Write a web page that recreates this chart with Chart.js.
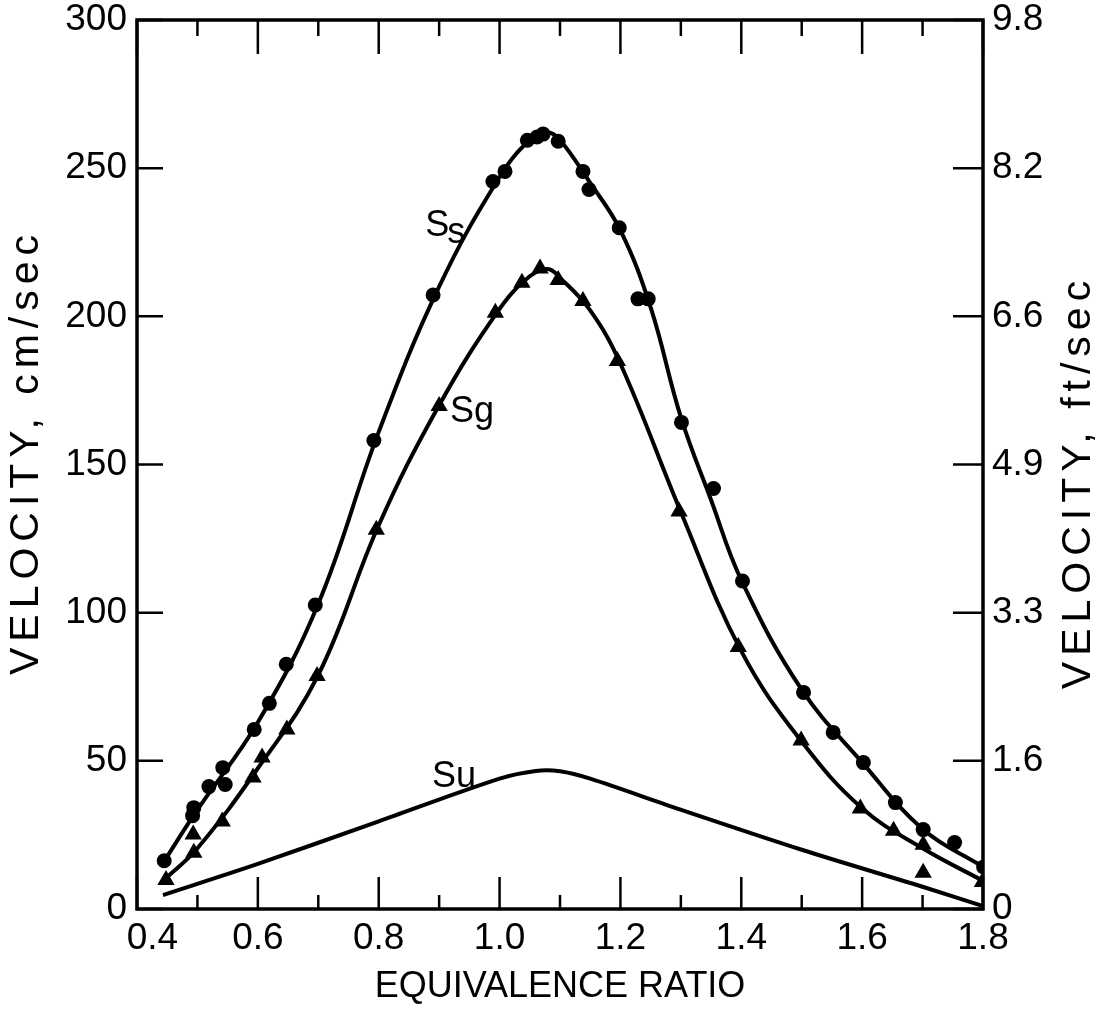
<!DOCTYPE html>
<html>
<head>
<meta charset="utf-8">
<script src="https://cdn.jsdelivr.net/npm/chart.js@4.4.1/dist/chart.umd.min.js"></script>
<style>
  html, body { margin: 0; padding: 0; background: #fff; }
  #wrap { width: 1099px; height: 1009px; }
</style>
</head>
<body>
<div id="wrap"><canvas id="chart" width="1099" height="1009"></canvas></div>
<script>
// measured points: circles = Ss, triangles = Sg
const ssPtsX = [0.445, 0.494, 0.492, 0.519, 0.542, 0.546, 0.594, 0.619, 0.647, 0.695, 0.792, 0.890, 0.989, 1.009, 1.046, 1.062, 1.072, 1.097, 1.138, 1.148, 1.198, 1.229, 1.246, 1.301, 1.354, 1.402, 1.503, 1.552, 1.602, 1.655, 1.701, 1.753, 1.801];
const ssPtsY = [16.3, 34.2, 31.5, 41.3, 47.7, 42.0, 60.6, 69.4, 82.6, 102.6, 158.1, 207.2, 245.5, 248.9, 259.4, 260.5, 261.5, 259.1, 248.9, 242.8, 229.9, 205.9, 205.9, 164.2, 141.9, 110.7, 73.1, 59.6, 49.4, 35.9, 26.8, 22.4, 14.2];
const sgPtsX = [0.448, 0.494, 0.493, 0.541, 0.592, 0.607, 0.648, 0.698, 0.796, 0.900, 0.993, 1.037, 1.067, 1.097, 1.138, 1.195, 1.297, 1.395, 1.499, 1.597, 1.652, 1.701, 1.701, 1.799];
const sgPtsY = [9.8, 19.0, 25.1, 29.5, 44.4, 51.1, 60.6, 78.6, 128.0, 169.7, 201.2, 211.3, 216.1, 212.3, 205.2, 184.9, 134.1, 88.4, 56.9, 33.9, 26.4, 21.7, 12.2, 9.1];

// faired curves
const ssCurveX = [0.443, 0.5, 0.6, 0.7, 0.8, 0.9, 1.0, 1.05, 1.08, 1.1, 1.15, 1.2, 1.25, 1.3, 1.35, 1.4, 1.5, 1.6, 1.7, 1.8];
const ssCurveY = [15.5, 33.5, 63, 103, 161, 210, 247, 259.5, 262, 259.5, 245, 229, 203, 166, 138, 111, 74, 49.5, 27, 14.2];
const sgCurveX = [0.443, 0.5, 0.6, 0.7, 0.8, 0.9, 1.0, 1.05, 1.08, 1.1, 1.15, 1.2, 1.3, 1.4, 1.5, 1.6, 1.7, 1.8];
const sgCurveY = [9.5, 20.5, 47.5, 79, 129.5, 170, 202.5, 213.5, 216, 213, 202, 184, 134, 87, 56.5, 34, 20.5, 9.5];
const suCurveX = [0.443, 0.6, 0.8, 1.0, 1.06, 1.1, 1.15, 1.3, 1.5, 1.7, 1.8];
const suCurveY = [4.7, 15.2, 29.6, 44, 46.6, 46.5, 44, 33.5, 20, 7.5, 1.0];

// axis ticks
const leftTicks = [0, 50, 100, 150, 200, 250, 300];
const rightTickLabels = ['0', '1.6', '3.3', '4.9', '6.6', '8.2', '9.8'];

// curve names, anchored in data units
const curveNames = [
  { main: 'S', sub: 's', x: 0.877, y: 227 },
  { main: 'Sg', sub: '', x: 0.918, y: 164.3 },
  { main: 'Su', sub: '', x: 0.888, y: 41.2 }
];

const FONT = '"Liberation Sans", Arial, sans-serif';
const toXY = (xs, ys) => xs.map((x, i) => ({ x: x, y: ys[i] }));

const frameAndTicks = {
  id: 'frameAndTicks',
  afterDatasetsDraw(chart) {
    const { ctx, chartArea: a } = chart;
    const xs = chart.scales.x, ys = chart.scales.y;
    ctx.save();
    ctx.strokeStyle = '#000';
    ctx.lineCap = 'butt';
    // x ticks, bottom and top, pointing inward
    ctx.lineWidth = 2.5;
    for (let i = 4; i <= 18; i++) {
      const px = xs.getPixelForValue(i / 10);
      const major = i % 2 === 0;
      ctx.beginPath();
      ctx.moveTo(px, a.bottom); ctx.lineTo(px, a.bottom - (major ? 32 : 14));
      ctx.moveTo(px, a.top); ctx.lineTo(px, a.top + (major ? 34 : 16));
      ctx.stroke();
    }
    leftTicks.forEach(v => {
      const py = ys.getPixelForValue(v);
      ctx.beginPath();
      ctx.moveTo(a.left, py); ctx.lineTo(a.left + 26, py);
      ctx.moveTo(a.right, py); ctx.lineTo(a.right - 30, py);
      ctx.stroke();
    });
    // frame
    ctx.lineWidth = 3.5;
    ctx.strokeRect(a.left, a.top, a.right - a.left, a.bottom - a.top);

    // curve names
    ctx.fillStyle = '#000';
    ctx.font = '36px ' + FONT;
    ctx.textAlign = 'left';
    ctx.textBaseline = 'alphabetic';
    curveNames.forEach(n => {
      const px = xs.getPixelForValue(n.x), py = ys.getPixelForValue(n.y);
      ctx.fillText(n.main, px, py);
      if (n.sub) ctx.fillText(n.sub, px + ctx.measureText(n.main).width - 2, py + 7);
    });

    // vertical axis titles, both reading upward
    ctx.font = '41px ' + FONT;
    ctx.textAlign = 'center';
    ctx.textBaseline = 'middle';
    if ('letterSpacing' in ctx) ctx.letterSpacing = '6px';
    [[27, 452, 'VELOCITY, cm/sec'], [1079, 482, 'VELOCITY, ft/sec']].forEach(t => {
      ctx.save();
      ctx.translate(t[0], t[1]);
      ctx.rotate(-Math.PI / 2);
      ctx.fillText(t[2], 0, 0);
      ctx.restore();
    });
    ctx.restore();
  }
};

new Chart(document.getElementById('chart'), {
  type: 'scatter',
  data: {
    datasets: [
      { data: toXY(ssPtsX, ssPtsY), pointStyle: 'circle', pointRadius: 7.5, backgroundColor: '#000', borderColor: '#000', borderWidth: 0, showLine: false },
      { data: toXY(sgPtsX, sgPtsY), pointStyle: 'triangle', pointRadius: 10, backgroundColor: '#000', borderColor: '#000', borderWidth: 0, showLine: false },
      { data: toXY(ssCurveX, ssCurveY), showLine: true, pointRadius: 0, borderColor: '#000', borderWidth: 4, tension: 0.4 },
      { data: toXY(sgCurveX, sgCurveY), showLine: true, pointRadius: 0, borderColor: '#000', borderWidth: 4, tension: 0.4 },
      { data: toXY(suCurveX, suCurveY), showLine: true, pointRadius: 0, borderColor: '#000', borderWidth: 4, tension: 0.3 }
    ]
  },
  options: {
    responsive: false,
    animation: false,
    devicePixelRatio: 1,
    layout: { padding: { top: 20, left: 0, right: 0, bottom: 0 } },
    plugins: { legend: { display: false }, tooltip: { enabled: false } },
    scales: {
      x: {
        type: 'linear', min: 0.4, max: 1.8,
        grid: { display: false, drawTicks: false },
        border: { display: false },
        ticks: {
          stepSize: 0.1, autoSkip: false, maxRotation: 0, padding: 8,
          color: '#000', font: { family: FONT, size: 37 },
          // first label sits a little right of its tick, clear of the "0"
          callback: v => {
            const k = Math.round(v * 10);
            if (k % 2 !== 0) return '';
            return (k === 4 ? '   ' : '') + (k / 10).toFixed(1);
          }
        },
        title: { display: true, text: 'EQUIVALENCE RATIO', color: '#000', font: { family: FONT, size: 36 }, padding: { top: 4, bottom: 0 } },
        afterFit: s => { s.height = 100; s.paddingLeft = 0; s.paddingRight = 0; }
      },
      y: {
        type: 'linear', position: 'left', min: 0, max: 300,
        grid: { display: false, drawTicks: false },
        border: { display: false },
        ticks: { stepSize: 50, padding: 10, color: '#000', font: { family: FONT, size: 37 } },
        afterFit: s => { s.width = 137; s.paddingTop = 0; s.paddingBottom = 0; }
      },
      y2: {
        type: 'linear', position: 'right', min: 0, max: 300,
        grid: { display: false, drawTicks: false },
        border: { display: false },
        ticks: {
          stepSize: 50, padding: 9, color: '#000', font: { family: FONT, size: 37 },
          callback: v => rightTickLabels[leftTicks.indexOf(v)]
        },
        afterFit: s => { s.width = 116; s.paddingTop = 0; s.paddingBottom = 0; }
      }
    }
  },
  plugins: [frameAndTicks]
});
</script>
</body>
</html>
